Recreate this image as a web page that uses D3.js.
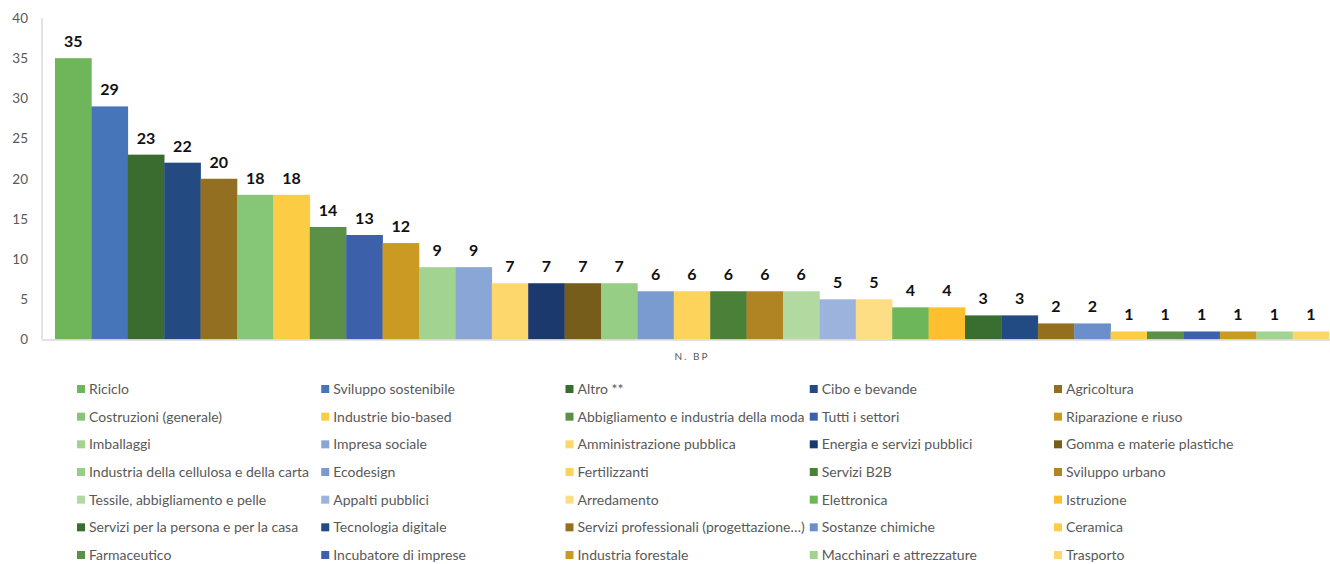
<!DOCTYPE html>
<html>
<head>
<meta charset="utf-8">
<script src="https://cdn.jsdelivr.net/npm/d3@7"></script>
<style>
  html, body { margin: 0; padding: 0; background: #fff; }
  svg { display: block; }
  text { font-family: Lato, "Open Sans", sans-serif; }
</style>
</head>
<body>
<svg id="chart" width="1330" height="564"></svg>
<script>
// Sectors of the good practices (one series each, single category "N. BP")
const sectors = [
  "Riciclo", "Sviluppo sostenibile", "Altro **", "Cibo e bevande", "Agricoltura",
  "Costruzioni (generale)", "Industrie bio-based", "Abbigliamento e industria della moda", "Tutti i settori", "Riparazione e riuso",
  "Imballaggi", "Impresa sociale", "Amministrazione pubblica", "Energia e servizi pubblici", "Gomma e materie plastiche",
  "Industria della cellulosa e della carta", "Ecodesign", "Fertilizzanti", "Servizi B2B", "Sviluppo urbano",
  "Tessile, abbigliamento e pelle", "Appalti pubblici", "Arredamento", "Elettronica", "Istruzione",
  "Servizi per la persona e per la casa", "Tecnologia digitale", "Servizi professionali (progettazione…)", "Sostanze chimiche", "Ceramica",
  "Farmaceutico", "Incubatore di imprese", "Industria forestale", "Macchinari e attrezzature", "Trasporto"
];

// Number of good practices per sector
const counts = [
  35, 29, 23, 22, 20,
  18, 18, 14, 13, 12,
  9, 9, 7, 7, 7,
  7, 6, 6, 6, 6,
  6, 5, 5, 4, 4,
  3, 3, 2, 2, 1,
  1, 1, 1, 1, 1
];

const sectorColors = [
  "#6fb65a", "#4775ba", "#3b6c2f", "#234b82", "#937021",
  "#86c777", "#fdcc45", "#5a9146", "#3c60aa", "#cb9a23",
  "#a3d390", "#8aa6d6", "#fdd76b", "#1c396e", "#765d1b",
  "#96ce85", "#7a9bd0", "#fdd35c", "#4a8038", "#b08422",
  "#b1d9a0", "#9cb4dd", "#fdde85", "#6db65a", "#fdbf2d",
  "#3a6d30", "#224a83", "#946f20", "#6a8fcb", "#fdcc45",
  "#5a9146", "#3c60aa", "#cb9a23", "#a3d390", "#fdd76b"
];

const yTicks = [0, 5, 10, 15, 20, 25, 30, 35, 40];
const categoryLabel = "N. BP";

const svg = d3.select("#chart");

const plot = { left: 42, right: 1342, top: 18, bottom: 339.5 };

const x = d3.scaleBand()
  .domain(sectors)
  .range([plot.left, plot.right])
  .paddingInner(0)
  .paddingOuter(0.357);

const y = d3.scaleLinear()
  .domain([0, 40])
  .range([plot.bottom, plot.top]);

const color = d3.scaleOrdinal().domain(sectors).range(sectorColors);

const data = sectors.map((s, i) => ({ sector: s, value: counts[i] }));

// Y axis (labels only, plus the light axis line)
const yAxis = d3.axisLeft(y).tickValues(yTicks).tickSize(0).tickPadding(0);
const yg = svg.append("g")
  .attr("transform", `translate(28,0)`)
  .call(yAxis);
yg.select(".domain").remove();
yg.selectAll("text")
  .attr("fill", "#595959")
  .style("font-size", "13.5px")
  .style("font-family", "Lato, 'Open Sans', sans-serif");

svg.append("line")
  .attr("x1", plot.left).attr("x2", plot.left)
  .attr("y1", y(40)).attr("y2", plot.bottom)
  .attr("stroke", "#d9d9d9").attr("stroke-width", 1.5);

// Bars
svg.append("g").selectAll("rect")
  .data(data)
  .join("rect")
  .attr("x", d => x(d.sector))
  .attr("y", d => y(d.value))
  .attr("width", x.bandwidth() + 0.3)
  .attr("height", d => y(0) - y(d.value))
  .attr("fill", d => color(d.sector));

// Baseline
svg.append("line")
  .attr("x1", plot.left).attr("x2", 1330)
  .attr("y1", plot.bottom + 0.5).attr("y2", plot.bottom + 0.5)
  .attr("stroke", "#d9d9d9").attr("stroke-width", 1.5);

// Value labels
svg.append("g").selectAll("text")
  .data(data)
  .join("text")
  .attr("x", d => x(d.sector) + x.bandwidth() / 2)
  .attr("y", d => y(d.value) - 11)
  .attr("text-anchor", "middle")
  .attr("fill", "#111")
  .style("font-size", "16px")
  .style("font-weight", "bold")
  .text(d => d.value);

// Category label
svg.append("text")
  .attr("x", (plot.left + plot.right) / 2)
  .attr("y", 360)
  .attr("text-anchor", "middle")
  .attr("fill", "#595959")
  .style("font-size", "10px")
  .style("letter-spacing", "2px")
  .text(categoryLabel);

// Legend: 5 columns, 7 rows
const legendCols = 5;
const colX = d3.scaleLinear().domain([0, legendCols - 1]).range([77, 1054]);
const rowY = d3.scaleLinear().domain([0, 6]).range([389, 555]);

const legend = svg.append("g").selectAll("g")
  .data(data)
  .join("g")
  .attr("transform", (d, i) => `translate(${colX(i % legendCols)},${rowY(Math.floor(i / legendCols))})`);

legend.append("rect")
  .attr("x", 0).attr("y", -4)
  .attr("width", 8).attr("height", 8)
  .attr("fill", d => color(d.sector));

legend.append("text")
  .attr("x", 12)
  .attr("y", 0)
  .attr("dy", "0.35em")
  .attr("fill", "#595959")
  .style("font-size", "14px")
  .text(d => d.sector);
</script>
</body>
</html>
